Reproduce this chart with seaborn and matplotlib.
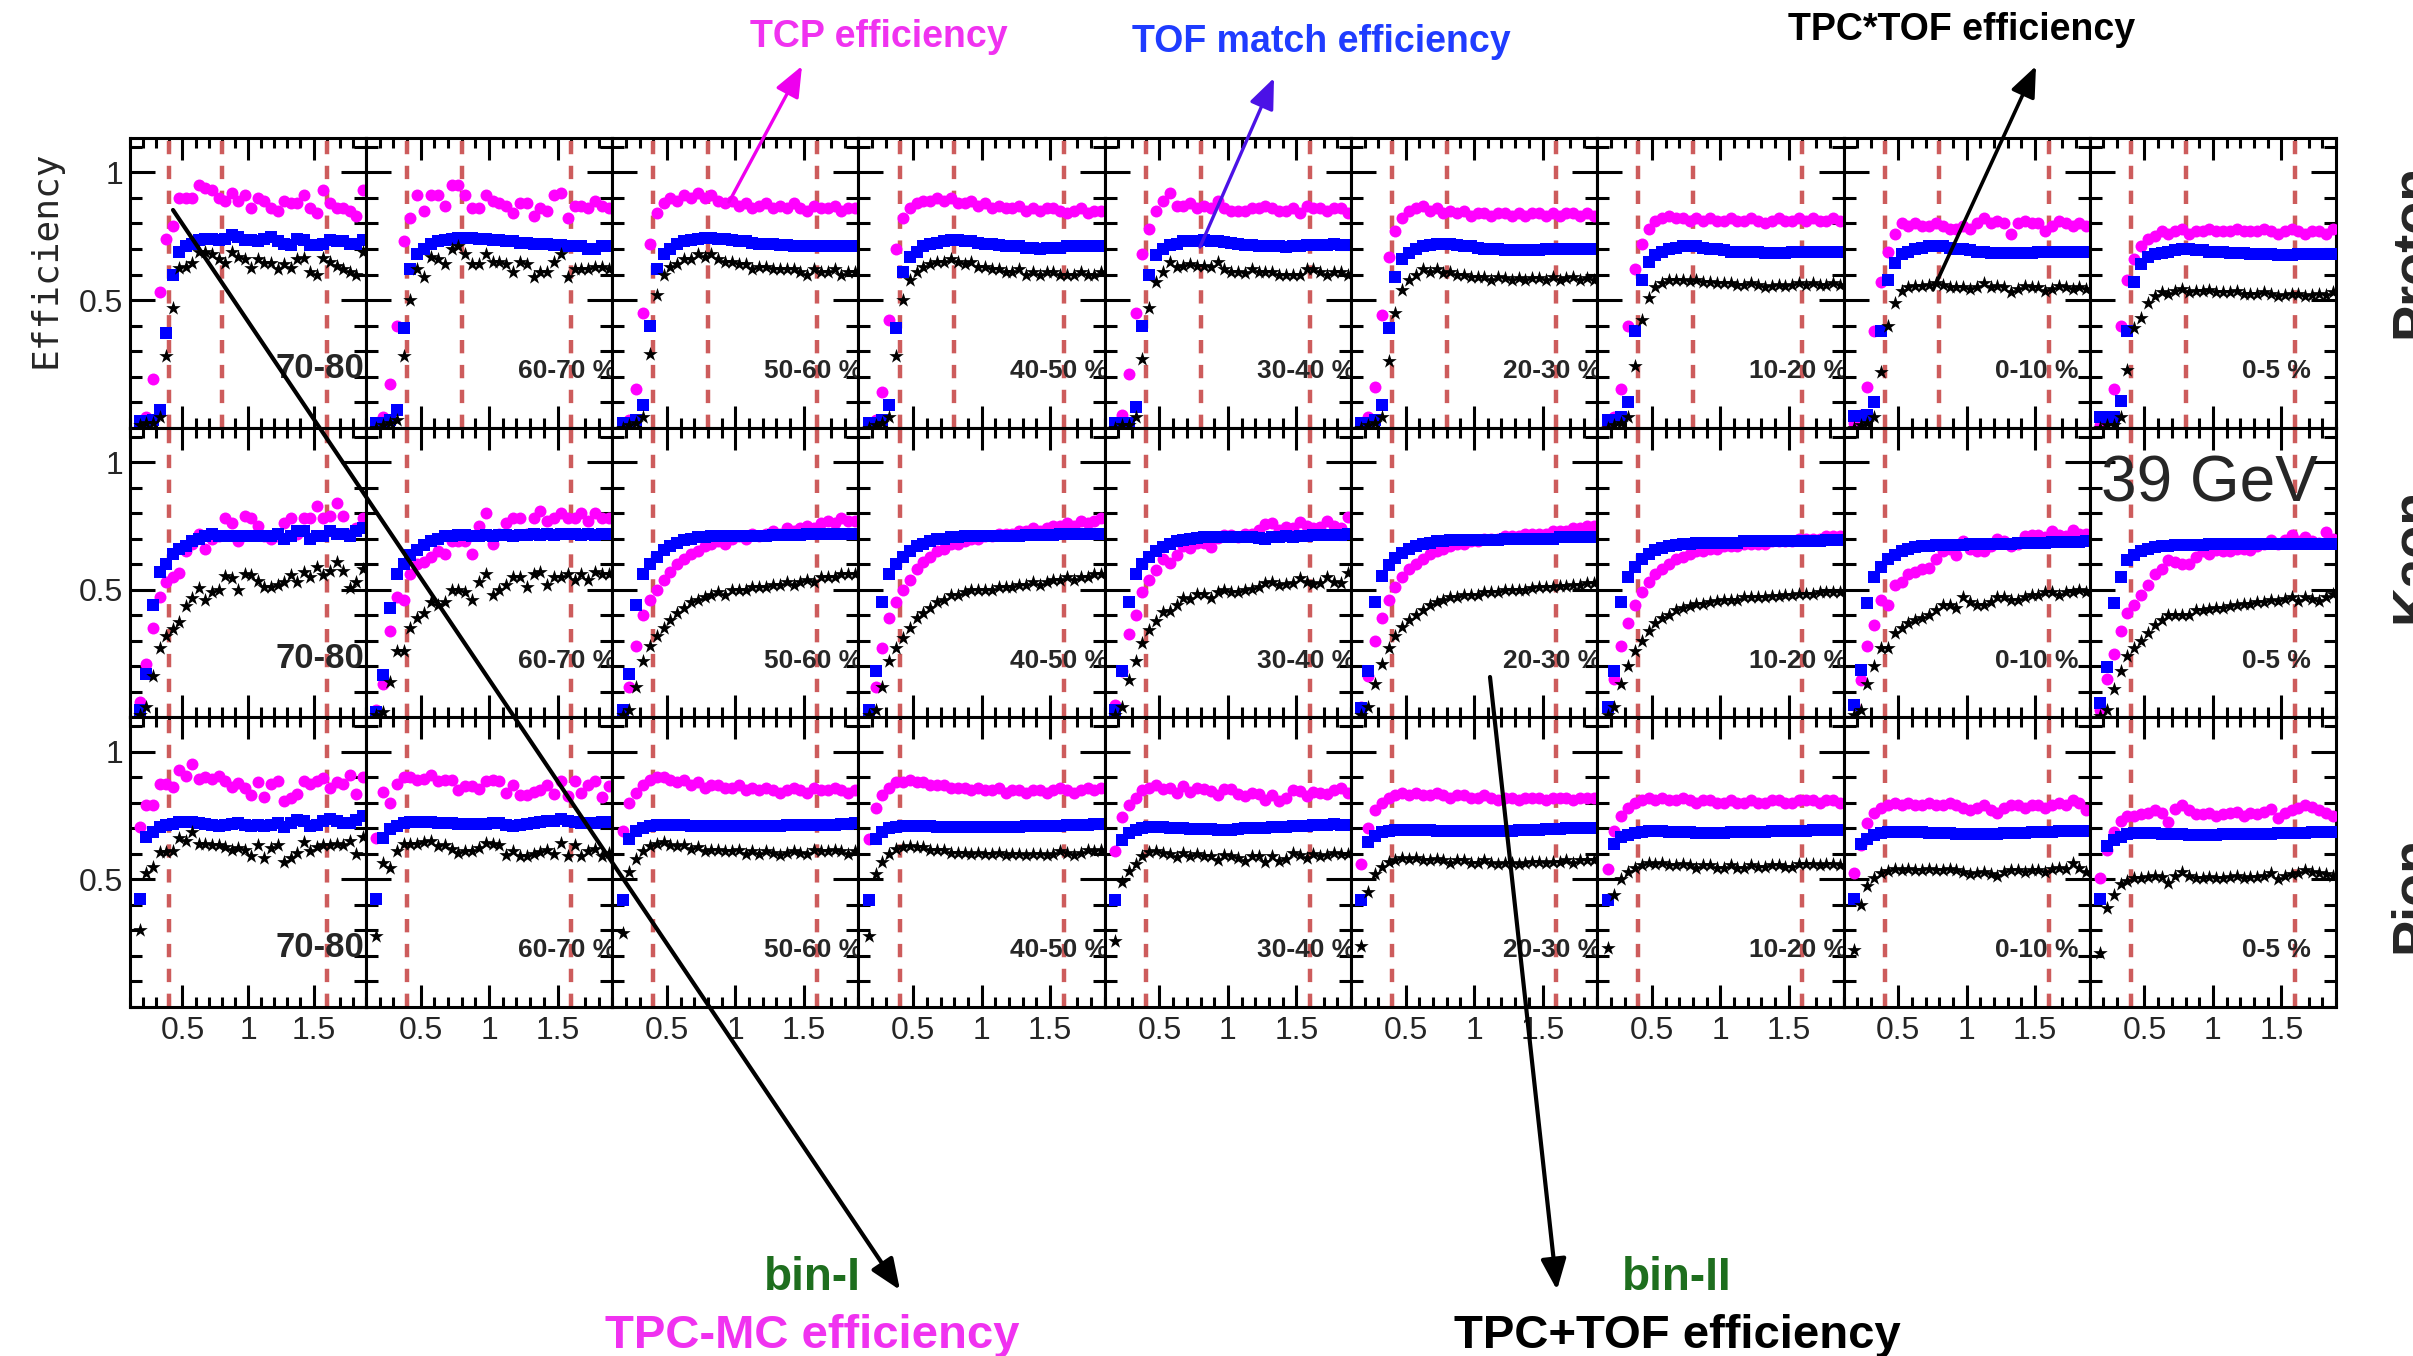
import matplotlib
matplotlib.use("Agg")
import matplotlib.pyplot as plt
from matplotlib.patches import FancyArrowPatch
from matplotlib.ticker import FixedLocator, FixedFormatter, MultipleLocator
import seaborn as sns

# ---------------------------------------------------------------- data
pt_bins = [0.175, 0.225, 0.275, 0.325, 0.375, 0.425, 0.475, 0.525, 0.575,
           0.625, 0.675, 0.725, 0.775, 0.825, 0.875, 0.925, 0.975, 1.025,
           1.075, 1.125, 1.175, 1.225, 1.275, 1.325, 1.375, 1.425, 1.475,
           1.525, 1.575, 1.625, 1.675, 1.725, 1.775, 1.825, 1.875]

centrality_labels = ["70-80", "60-70 %", "50-60 %", "40-50 %", "30-40 %",
                     "20-30 %", "10-20 %", "0-10 %", "0-5 %"]
species_labels = ["Proton", "Kaon", "Pion"]
energy_label = "39 GeV"
cut_lines = [[0.4, 0.8, 1.6], [0.4, 1.6], [0.4, 1.6]]

# TPC (MC) efficiency - magenta circles
proton_tpc = [
    [0.01, 0.04, 0.19, 0.53, 0.74, 0.79, 0.90,  0.90, 0.90, 0.95, 0.94, 0.93, 0.90, 0.89,  0.92, 0.89, 0.91, 0.86, 0.90, 0.89, 0.86,  0.85, 0.89, 0.88, 0.88, 0.91, 0.86, 0.84,  0.93, 0.88, 0.86, 0.86, 0.85, 0.83, 0.93],
    [0.00, 0.04, 0.17, 0.40, 0.73, 0.82, 0.91,  0.85, 0.91, 0.91, 0.87, 0.95, 0.95, 0.91,  0.86, 0.86, 0.91, 0.89, 0.88, 0.87, 0.84,  0.88, 0.88, 0.83, 0.86, 0.85, 0.91, 0.92,  0.82, 0.87, 0.87, 0.86, 0.89, 0.87, 0.86],
    [0.01, 0.03, 0.15, 0.45, 0.72, 0.84, 0.88,  0.90, 0.89, 0.91, 0.90, 0.92, 0.90, 0.91,  0.89, 0.88, 0.89, 0.87, 0.88, 0.86, 0.87,  0.88, 0.86, 0.87, 0.86, 0.88, 0.86, 0.85,  0.87, 0.86, 0.86, 0.87, 0.85, 0.86, 0.86],
    [0.01, 0.03, 0.14, 0.42, 0.70, 0.82, 0.86,  0.88, 0.89, 0.89, 0.90, 0.89, 0.90, 0.88,  0.88, 0.89, 0.87, 0.88, 0.86, 0.87, 0.86,  0.86, 0.87, 0.85, 0.86, 0.85, 0.86, 0.86,  0.85, 0.84, 0.85, 0.86, 0.84, 0.85, 0.85],
    [0.01, 0.05, 0.21, 0.45, 0.68, 0.78, 0.85,  0.89, 0.92, 0.87, 0.87, 0.88, 0.86, 0.87,  0.86, 0.89, 0.86, 0.85, 0.85, 0.85, 0.86,  0.86, 0.87, 0.86, 0.85, 0.85, 0.86, 0.84,  0.87, 0.86, 0.86, 0.85, 0.86, 0.86, 0.84],
    [0.01, 0.04, 0.16, 0.44, 0.67, 0.77, 0.82,  0.85, 0.86, 0.87, 0.85, 0.86, 0.84, 0.85,  0.84, 0.85, 0.83, 0.84, 0.84, 0.83, 0.84,  0.84, 0.83, 0.84, 0.83, 0.84, 0.84, 0.83,  0.84, 0.83, 0.84, 0.84, 0.83, 0.84, 0.83],
    [0.01, 0.04, 0.15, 0.40, 0.62, 0.72, 0.78,  0.81, 0.82, 0.83, 0.82, 0.82, 0.81, 0.82,  0.81, 0.82, 0.81, 0.81, 0.82, 0.81, 0.81,  0.82, 0.81, 0.80, 0.81, 0.82, 0.81, 0.81,  0.82, 0.81, 0.82, 0.81, 0.81, 0.82, 0.81],
    [0.02, 0.05, 0.16, 0.38, 0.57, 0.69, 0.76,  0.80, 0.79, 0.80, 0.79, 0.79, 0.80, 0.79,  0.78, 0.78, 0.79, 0.78, 0.80, 0.82, 0.80,  0.81, 0.80, 0.76, 0.80, 0.81, 0.80, 0.80,  0.77, 0.79, 0.81, 0.80, 0.79, 0.80, 0.79],
    [0.01, 0.04, 0.15, 0.40, 0.58, 0.66, 0.71,  0.74, 0.75, 0.77, 0.76, 0.77, 0.78, 0.76,  0.77, 0.77, 0.78, 0.77, 0.77, 0.77, 0.78,  0.77, 0.77, 0.77, 0.78, 0.77, 0.76, 0.77,  0.78, 0.77, 0.76, 0.77, 0.77, 0.76, 0.78],
]
kaon_tpc = [
    [0.06, 0.21, 0.35, 0.47, 0.53, 0.55, 0.565,  0.65, 0.68, 0.72, 0.66, 0.70, 0.71, 0.78,  0.76, 0.69, 0.79, 0.78, 0.75, 0.71, 0.70,  0.71, 0.76, 0.78, 0.72, 0.78, 0.78, 0.83,  0.78, 0.79, 0.84, 0.79, 0.72, 0.74, 0.78],
    [0.03, 0.13, 0.34, 0.47, 0.46, 0.56, 0.60,  0.61, 0.63, 0.65, 0.64, 0.69, 0.69, 0.69,  0.64, 0.75, 0.80, 0.68, 0.72, 0.76, 0.78,  0.78, 0.72, 0.78, 0.81, 0.77, 0.78, 0.80,  0.78, 0.78, 0.80, 0.77, 0.80, 0.78, 0.78],
    [0.03, 0.12, 0.28, 0.40, 0.46, 0.50, 0.54,  0.57, 0.60, 0.62, 0.64, 0.65, 0.67, 0.68,  0.69, 0.68, 0.70, 0.71, 0.70, 0.72, 0.71,  0.72, 0.73, 0.72, 0.74, 0.73, 0.74, 0.75,  0.74, 0.76, 0.77, 0.76, 0.78, 0.77, 0.77],
    [0.03, 0.12, 0.27, 0.39, 0.45, 0.50, 0.54,  0.58, 0.61, 0.63, 0.65, 0.66, 0.68, 0.68,  0.69, 0.70, 0.70, 0.71, 0.71, 0.72, 0.72,  0.72, 0.73, 0.73, 0.74, 0.73, 0.74, 0.75,  0.75, 0.76, 0.75, 0.77, 0.76, 0.77, 0.78],
    [0.05, 0.18, 0.325, 0.40, 0.49, 0.54, 0.578,  0.62, 0.606, 0.638, 0.67, 0.665, 0.683, 0.683,  0.668, 0.704, 0.713, 0.713, 0.707, 0.72, 0.72,  0.733, 0.756, 0.76, 0.735, 0.745, 0.743, 0.765,  0.748, 0.743, 0.745, 0.769, 0.748, 0.743, 0.784],
    [0.04, 0.16, 0.30, 0.39, 0.46, 0.51, 0.55,  0.58, 0.60, 0.62, 0.64, 0.65, 0.66, 0.67,  0.68, 0.68, 0.69, 0.69, 0.70, 0.70, 0.70,  0.71, 0.71, 0.71, 0.72, 0.72, 0.72, 0.72,  0.73, 0.73, 0.73, 0.74, 0.74, 0.75, 0.75],
    [0.04, 0.15, 0.28, 0.37, 0.44, 0.49, 0.53,  0.56, 0.58, 0.60, 0.62, 0.63, 0.64, 0.65,  0.65, 0.66, 0.66, 0.67, 0.67, 0.67, 0.68,  0.68, 0.68, 0.68, 0.69, 0.69, 0.69, 0.69,  0.70, 0.70, 0.70, 0.70, 0.71, 0.71, 0.71],
    [0.05, 0.145, 0.28, 0.36, 0.46, 0.44, 0.52,  0.53, 0.56, 0.57, 0.58, 0.585, 0.62, 0.65,  0.66, 0.635, 0.69, 0.66, 0.65, 0.65, 0.67,  0.70, 0.69, 0.67, 0.68, 0.71, 0.715, 0.715,  0.705, 0.73, 0.715, 0.71, 0.735, 0.72, 0.72],
    [0.03, 0.15, 0.25, 0.34, 0.41, 0.44, 0.48,  0.52, 0.56, 0.58, 0.615, 0.61, 0.60, 0.60,  0.63, 0.65, 0.64, 0.655, 0.65, 0.65, 0.66,  0.66, 0.655, 0.67, 0.68, 0.695, 0.68, 0.695,  0.715, 0.69, 0.705, 0.69, 0.685, 0.725, 0.70],
]
pion_tpc = [
    [0.707, 0.793, 0.793, 0.873, 0.873, 0.863, 0.93,  0.907, 0.953, 0.893, 0.90, 0.893, 0.907, 0.884,  0.863, 0.876, 0.86, 0.83, 0.88, 0.823, 0.873,  0.884, 0.807, 0.817, 0.833, 0.887, 0.873, 0.884,  0.897, 0.86, 0.88, 0.873, 0.91, 0.836, 0.90],
    [0.664, 0.844, 0.80, 0.873, 0.90, 0.90, 0.89,  0.895, 0.91, 0.884, 0.89, 0.89, 0.85, 0.864,  0.864, 0.855, 0.884, 0.89, 0.886, 0.84, 0.87,  0.83, 0.83, 0.844, 0.85, 0.868, 0.833, 0.887,  0.828, 0.884, 0.84, 0.87, 0.887, 0.824, 0.864],
    [0.69, 0.80, 0.84, 0.87, 0.89, 0.90, 0.90,  0.89, 0.88, 0.89, 0.87, 0.88, 0.86, 0.87,  0.87, 0.86, 0.86, 0.87, 0.85, 0.86, 0.85,  0.86, 0.85, 0.84, 0.85, 0.86, 0.85, 0.84,  0.86, 0.85, 0.85, 0.86, 0.85, 0.84, 0.85],
    [0.66, 0.78, 0.83, 0.86, 0.88, 0.88, 0.89,  0.88, 0.88, 0.87, 0.87, 0.87, 0.86, 0.86,  0.86, 0.85, 0.86, 0.85, 0.85, 0.86, 0.84,  0.85, 0.85, 0.84, 0.85, 0.85, 0.84, 0.85,  0.86, 0.85, 0.84, 0.85, 0.86, 0.85, 0.86],
    [0.613, 0.743, 0.793, 0.817, 0.849, 0.86, 0.87,  0.853, 0.86, 0.84, 0.864, 0.844, 0.857, 0.856,  0.847, 0.83, 0.856, 0.854, 0.836, 0.827, 0.84,  0.833, 0.813, 0.83, 0.807, 0.82, 0.849, 0.847,  0.827, 0.844, 0.84, 0.836, 0.849, 0.86, 0.84],
    [0.56, 0.70, 0.77, 0.80, 0.82, 0.83, 0.84,  0.83, 0.84, 0.83, 0.83, 0.84, 0.83, 0.82,  0.83, 0.83, 0.82, 0.82, 0.83, 0.82, 0.81,  0.82, 0.82, 0.81, 0.82, 0.82, 0.82, 0.81,  0.82, 0.82, 0.82, 0.81, 0.82, 0.82, 0.82],
    [0.54, 0.69, 0.75, 0.78, 0.80, 0.81, 0.82,  0.81, 0.82, 0.81, 0.81, 0.82, 0.81, 0.80,  0.81, 0.81, 0.80, 0.80, 0.81, 0.80, 0.80,  0.81, 0.80, 0.80, 0.81, 0.81, 0.80, 0.80,  0.81, 0.81, 0.81, 0.80, 0.81, 0.81, 0.80],
    [0.524, 0.633, 0.72, 0.76, 0.78, 0.79, 0.80,  0.79, 0.80, 0.79, 0.79, 0.80, 0.79, 0.79,  0.80, 0.79, 0.78, 0.77, 0.78, 0.79, 0.77,  0.76, 0.78, 0.79, 0.79, 0.78, 0.79, 0.79,  0.78, 0.79, 0.80, 0.79, 0.81, 0.80, 0.77],
    [0.504, 0.615, 0.684, 0.727, 0.748, 0.748, 0.757,  0.76, 0.77, 0.76, 0.724, 0.775, 0.79, 0.77,  0.757, 0.755, 0.76, 0.75, 0.755, 0.76, 0.765,  0.75, 0.76, 0.755, 0.765, 0.777, 0.74, 0.76,  0.77, 0.78, 0.793, 0.785, 0.77, 0.76, 0.748],
]

# TOF match efficiency - blue squares
proton_tof = [
    [0.025, 0.025, 0.03, 0.07, 0.37, 0.60, 0.69,  0.71, 0.72, 0.735, 0.74, 0.74, 0.735, 0.74,  0.755, 0.748, 0.735, 0.735, 0.73, 0.74, 0.748,  0.73, 0.72, 0.716, 0.74, 0.735, 0.716, 0.716,  0.72, 0.735, 0.73, 0.73, 0.72, 0.72, 0.735],
    [0.02, 0.02, 0.03, 0.07, 0.39, 0.62, 0.68,  0.70, 0.72, 0.73, 0.735, 0.74, 0.745, 0.745,  0.745, 0.74, 0.74, 0.735, 0.735, 0.73, 0.73,  0.725, 0.725, 0.72, 0.72, 0.72, 0.715, 0.715,  0.71, 0.71, 0.71, 0.70, 0.70, 0.71, 0.71],
    [0.02, 0.02, 0.03, 0.09, 0.40, 0.62, 0.68,  0.70, 0.72, 0.73, 0.735, 0.74, 0.745, 0.745,  0.74, 0.74, 0.735, 0.73, 0.73, 0.725, 0.72,  0.72, 0.72, 0.715, 0.715, 0.71, 0.71, 0.71,  0.71, 0.71, 0.71, 0.71, 0.71, 0.71, 0.71],
    [0.02, 0.02, 0.03, 0.09, 0.39, 0.61, 0.67,  0.69, 0.71, 0.72, 0.725, 0.73, 0.735, 0.735,  0.73, 0.73, 0.725, 0.72, 0.72, 0.715, 0.71,  0.71, 0.71, 0.705, 0.705, 0.70, 0.705, 0.705,  0.705, 0.71, 0.71, 0.71, 0.71, 0.71, 0.71],
    [0.02, 0.02, 0.02, 0.08, 0.40, 0.60, 0.675,  0.70, 0.715, 0.72, 0.73, 0.733, 0.73, 0.735,  0.733, 0.73, 0.726, 0.722, 0.72, 0.716, 0.716,  0.713, 0.713, 0.71, 0.71, 0.707, 0.71, 0.712,  0.716, 0.716, 0.716, 0.716, 0.718, 0.716, 0.716],
    [0.02, 0.02, 0.03, 0.09, 0.39, 0.59, 0.66,  0.685, 0.70, 0.71, 0.715, 0.72, 0.72, 0.72,  0.715, 0.71, 0.71, 0.705, 0.70, 0.70, 0.70,  0.695, 0.695, 0.695, 0.695, 0.695, 0.695, 0.70,  0.70, 0.70, 0.70, 0.70, 0.70, 0.70, 0.70],
    [0.03, 0.03, 0.04, 0.10, 0.38, 0.58, 0.65,  0.675, 0.69, 0.70, 0.705, 0.71, 0.71, 0.71,  0.705, 0.70, 0.70, 0.695, 0.69, 0.69, 0.69,  0.69, 0.69, 0.685, 0.685, 0.685, 0.685, 0.69,  0.69, 0.69, 0.69, 0.69, 0.69, 0.69, 0.69],
    [0.045, 0.045, 0.05, 0.10, 0.38, 0.58, 0.645,  0.68, 0.69, 0.70, 0.705, 0.71, 0.71, 0.71,  0.705, 0.70, 0.70, 0.695, 0.69, 0.69, 0.685,  0.685, 0.685, 0.685, 0.685, 0.685, 0.685, 0.69,  0.69, 0.69, 0.69, 0.69, 0.69, 0.69, 0.69],
    [0.04, 0.04, 0.04, 0.105, 0.38, 0.57, 0.64,  0.67, 0.68, 0.685, 0.69, 0.695, 0.70, 0.70,  0.695, 0.695, 0.69, 0.69, 0.69, 0.685, 0.685,  0.685, 0.68, 0.68, 0.68, 0.68, 0.675, 0.675,  0.675, 0.68, 0.68, 0.68, 0.68, 0.68, 0.68],
]
kaon_tof = [
    [0.03, 0.17, 0.44, 0.57, 0.60, 0.64, 0.66,  0.67, 0.69, 0.70, 0.71, 0.72, 0.71, 0.71,  0.71, 0.71, 0.71, 0.71, 0.71, 0.71, 0.71,  0.72, 0.70, 0.71, 0.73, 0.73, 0.70, 0.71,  0.71, 0.73, 0.72, 0.72, 0.71, 0.73, 0.74],
    [0.02, 0.165, 0.43, 0.56, 0.60, 0.635, 0.655,  0.675, 0.69, 0.70, 0.71, 0.71, 0.715, 0.715,  0.71, 0.71, 0.715, 0.71, 0.715, 0.715, 0.71,  0.715, 0.715, 0.72, 0.715, 0.72, 0.715, 0.72,  0.72, 0.72, 0.715, 0.72, 0.715, 0.72, 0.72],
    [0.03, 0.17, 0.44, 0.56, 0.60, 0.63, 0.655,  0.67, 0.685, 0.695, 0.70, 0.705, 0.705, 0.71,  0.71, 0.71, 0.71, 0.71, 0.71, 0.71, 0.71,  0.71, 0.715, 0.715, 0.715, 0.715, 0.715, 0.72,  0.72, 0.72, 0.72, 0.72, 0.72, 0.72, 0.72],
    [0.03, 0.18, 0.45, 0.56, 0.60, 0.63, 0.65,  0.67, 0.68, 0.69, 0.70, 0.70, 0.705, 0.705,  0.71, 0.71, 0.71, 0.71, 0.71, 0.71, 0.71,  0.71, 0.71, 0.715, 0.715, 0.715, 0.715, 0.715,  0.72, 0.72, 0.72, 0.72, 0.72, 0.72, 0.72],
    [0.03, 0.18, 0.45, 0.56, 0.60, 0.63, 0.65,  0.668, 0.68, 0.69, 0.696, 0.70, 0.704, 0.707,  0.707, 0.707, 0.706, 0.706, 0.705, 0.706, 0.705,  0.703, 0.70, 0.708, 0.708, 0.71, 0.708, 0.712,  0.712, 0.715, 0.715, 0.714, 0.716, 0.713, 0.72],
    [0.035, 0.18, 0.45, 0.555, 0.595, 0.625, 0.645,  0.66, 0.67, 0.68, 0.685, 0.69, 0.69, 0.695,  0.695, 0.695, 0.695, 0.695, 0.695, 0.695, 0.695,  0.70, 0.70, 0.70, 0.70, 0.70, 0.70, 0.70,  0.70, 0.705, 0.705, 0.705, 0.705, 0.705, 0.705],
    [0.04, 0.18, 0.45, 0.55, 0.59, 0.62, 0.64,  0.655, 0.665, 0.67, 0.675, 0.68, 0.68, 0.685,  0.685, 0.685, 0.685, 0.685, 0.685, 0.685, 0.69,  0.69, 0.69, 0.69, 0.69, 0.69, 0.69, 0.69,  0.69, 0.69, 0.69, 0.69, 0.695, 0.695, 0.695],
    [0.047, 0.184, 0.448, 0.55, 0.59, 0.62, 0.637,  0.65, 0.66, 0.667, 0.67, 0.672, 0.674, 0.675,  0.676, 0.676, 0.677, 0.678, 0.678, 0.679, 0.68,  0.68, 0.68, 0.681, 0.682, 0.683, 0.684, 0.684,  0.685, 0.686, 0.686, 0.687, 0.687, 0.688, 0.69],
    [0.057, 0.197, 0.448, 0.55, 0.615, 0.637, 0.65,  0.66, 0.667, 0.67, 0.672, 0.674, 0.675, 0.676,  0.677, 0.677, 0.678, 0.678, 0.679, 0.679, 0.68,  0.68, 0.68, 0.68, 0.68, 0.68, 0.68, 0.68,  0.68, 0.68, 0.68, 0.68, 0.68, 0.68, 0.68],
]
pion_tof = [
    [0.423, 0.667, 0.687, 0.707, 0.713, 0.717, 0.723,  0.724, 0.724, 0.72, 0.717, 0.713, 0.71, 0.713,  0.717, 0.72, 0.713, 0.71, 0.713, 0.71, 0.713,  0.72, 0.707, 0.72, 0.733, 0.727, 0.71, 0.713,  0.727, 0.737, 0.729, 0.72, 0.72, 0.733, 0.747],
    [0.424, 0.664, 0.697, 0.71, 0.72, 0.724, 0.724,  0.725, 0.724, 0.722, 0.72, 0.72, 0.718, 0.716,  0.716, 0.716, 0.718, 0.72, 0.72, 0.715, 0.71,  0.713, 0.716, 0.72, 0.724, 0.727, 0.73, 0.735,  0.73, 0.726, 0.722, 0.72, 0.722, 0.725, 0.725],
    [0.42, 0.66, 0.69, 0.70, 0.71, 0.715, 0.715,  0.715, 0.715, 0.712, 0.71, 0.71, 0.708, 0.708,  0.708, 0.708, 0.708, 0.708, 0.708, 0.708, 0.71,  0.71, 0.71, 0.71, 0.712, 0.712, 0.712, 0.715,  0.715, 0.715, 0.715, 0.715, 0.718, 0.718, 0.72],
    [0.42, 0.66, 0.685, 0.70, 0.705, 0.71, 0.71,  0.71, 0.71, 0.708, 0.706, 0.705, 0.705, 0.705,  0.705, 0.705, 0.705, 0.705, 0.705, 0.705, 0.707,  0.707, 0.707, 0.708, 0.708, 0.708, 0.71, 0.71,  0.71, 0.712, 0.712, 0.714, 0.714, 0.716, 0.716],
    [0.42, 0.653, 0.68, 0.693, 0.70, 0.704, 0.704,  0.704, 0.703, 0.70, 0.70, 0.697, 0.697, 0.697,  0.696, 0.693, 0.693, 0.693, 0.696, 0.70, 0.703,  0.70, 0.70, 0.707, 0.707, 0.707, 0.709, 0.709,  0.71, 0.713, 0.713, 0.713, 0.716, 0.713, 0.713],
    [0.42, 0.645, 0.67, 0.685, 0.69, 0.695, 0.695,  0.695, 0.695, 0.693, 0.692, 0.69, 0.69, 0.69,  0.69, 0.69, 0.69, 0.69, 0.69, 0.69, 0.69,  0.69, 0.69, 0.692, 0.692, 0.694, 0.695, 0.696,  0.697, 0.698, 0.70, 0.70, 0.70, 0.70, 0.70],
    [0.42, 0.64, 0.665, 0.675, 0.68, 0.685, 0.688,  0.688, 0.688, 0.686, 0.685, 0.684, 0.684, 0.683,  0.683, 0.683, 0.683, 0.683, 0.684, 0.685, 0.685,  0.686, 0.686, 0.687, 0.688, 0.688, 0.689, 0.69,  0.69, 0.69, 0.692, 0.692, 0.693, 0.694, 0.695],
    [0.424, 0.637, 0.657, 0.673, 0.68, 0.687, 0.687,  0.687, 0.686, 0.685, 0.684, 0.683, 0.682, 0.681,  0.68, 0.679, 0.678, 0.677, 0.677, 0.677, 0.678,  0.679, 0.68, 0.681, 0.682, 0.683, 0.684, 0.685,  0.686, 0.687, 0.688, 0.689, 0.69, 0.69, 0.69],
    [0.424, 0.63, 0.655, 0.668, 0.677, 0.68, 0.68,  0.68, 0.68, 0.679, 0.678, 0.677, 0.676, 0.675,  0.675, 0.675, 0.675, 0.675, 0.676, 0.676, 0.677,  0.677, 0.678, 0.678, 0.679, 0.679, 0.68, 0.68,  0.681, 0.682, 0.683, 0.684, 0.685, 0.685, 0.686],
]

# combined TPC*TOF efficiency - black stars
proton_comb = [
    [0.01, 0.02, 0.02, 0.04, 0.28, 0.47, 0.625,  0.63, 0.645, 0.69, 0.69, 0.68, 0.66, 0.645,  0.69, 0.67, 0.66, 0.625, 0.66, 0.645, 0.645,  0.62, 0.64, 0.625, 0.66, 0.665, 0.61, 0.60,  0.665, 0.65, 0.635, 0.62, 0.61, 0.60, 0.69],
    [0.00, 0.01, 0.02, 0.03, 0.28, 0.50, 0.62,  0.59, 0.67, 0.66, 0.64, 0.70, 0.71, 0.68,  0.64, 0.64, 0.68, 0.65, 0.65, 0.64, 0.61,  0.65, 0.64, 0.59, 0.61, 0.61, 0.65, 0.68,  0.59, 0.62, 0.62, 0.62, 0.63, 0.63, 0.62],
    [0.00, 0.01, 0.02, 0.04, 0.29, 0.52, 0.60,  0.63, 0.64, 0.66, 0.66, 0.68, 0.67, 0.68,  0.66, 0.65, 0.65, 0.64, 0.64, 0.62, 0.63,  0.63, 0.62, 0.62, 0.62, 0.62, 0.61, 0.60,  0.62, 0.61, 0.61, 0.62, 0.60, 0.61, 0.61],
    [0.00, 0.01, 0.02, 0.04, 0.28, 0.50, 0.58,  0.61, 0.63, 0.64, 0.65, 0.65, 0.66, 0.65,  0.64, 0.65, 0.63, 0.63, 0.62, 0.62, 0.61,  0.61, 0.62, 0.60, 0.61, 0.60, 0.61, 0.61,  0.60, 0.60, 0.60, 0.61, 0.60, 0.60, 0.61],
    [0.00, 0.01, 0.01, 0.04, 0.27, 0.47, 0.57,  0.61, 0.65, 0.63, 0.635, 0.64, 0.635, 0.635,  0.63, 0.65, 0.62, 0.61, 0.61, 0.605, 0.62,  0.61, 0.61, 0.61, 0.60, 0.60, 0.60, 0.60,  0.62, 0.62, 0.61, 0.60, 0.61, 0.61, 0.60],
    [0.00, 0.01, 0.02, 0.04, 0.26, 0.45, 0.54,  0.58, 0.60, 0.62, 0.61, 0.62, 0.605, 0.61,  0.60, 0.60, 0.59, 0.59, 0.59, 0.58, 0.59,  0.585, 0.58, 0.585, 0.58, 0.585, 0.585, 0.58,  0.59, 0.58, 0.585, 0.59, 0.58, 0.585, 0.58],
    [0.00, 0.01, 0.02, 0.04, 0.24, 0.42, 0.51,  0.55, 0.565, 0.58, 0.58, 0.58, 0.575, 0.58,  0.57, 0.57, 0.565, 0.565, 0.565, 0.56, 0.56,  0.565, 0.56, 0.55, 0.555, 0.56, 0.555, 0.56,  0.565, 0.56, 0.565, 0.56, 0.56, 0.565, 0.56],
    [0.00, 0.01, 0.02, 0.04, 0.22, 0.40, 0.49,  0.535, 0.55, 0.555, 0.555, 0.56, 0.565, 0.56,  0.55, 0.55, 0.55, 0.545, 0.55, 0.565, 0.55,  0.555, 0.55, 0.53, 0.545, 0.555, 0.55, 0.55,  0.535, 0.545, 0.555, 0.55, 0.545, 0.55, 0.545],
    [0.00, 0.01, 0.01, 0.04, 0.225, 0.39, 0.43,  0.49, 0.515, 0.53, 0.525, 0.535, 0.545, 0.53,  0.535, 0.535, 0.54, 0.53, 0.53, 0.53, 0.535,  0.525, 0.525, 0.525, 0.53, 0.525, 0.515, 0.52,  0.525, 0.525, 0.515, 0.52, 0.525, 0.52, 0.53],
]
kaon_comb = [
    [0.01, 0.04, 0.16, 0.27, 0.32, 0.345, 0.375,  0.435, 0.468, 0.506, 0.46, 0.49, 0.497, 0.554,  0.545, 0.497, 0.562, 0.558, 0.536, 0.51, 0.51,  0.52, 0.532, 0.558, 0.532, 0.57, 0.55, 0.59,  0.558, 0.575, 0.61, 0.575, 0.506, 0.532, 0.58],
    [0.01, 0.02, 0.14, 0.26, 0.26, 0.35, 0.39,  0.41, 0.45, 0.44, 0.45, 0.50, 0.50, 0.49,  0.46, 0.53, 0.56, 0.48, 0.50, 0.52, 0.55,  0.55, 0.51, 0.56, 0.57, 0.52, 0.55, 0.55,  0.56, 0.54, 0.56, 0.54, 0.57, 0.56, 0.56],
    [0.01, 0.03, 0.12, 0.22, 0.28, 0.32, 0.35,  0.38, 0.41, 0.43, 0.45, 0.46, 0.47, 0.48,  0.49, 0.48, 0.50, 0.50, 0.50, 0.51, 0.51,  0.51, 0.52, 0.52, 0.53, 0.52, 0.53, 0.54,  0.53, 0.55, 0.55, 0.55, 0.56, 0.56, 0.56],
    [0.01, 0.03, 0.12, 0.22, 0.27, 0.31, 0.35,  0.39, 0.41, 0.43, 0.45, 0.46, 0.48, 0.48,  0.49, 0.50, 0.50, 0.50, 0.50, 0.51, 0.51,  0.51, 0.52, 0.52, 0.53, 0.52, 0.53, 0.54,  0.54, 0.55, 0.54, 0.55, 0.55, 0.56, 0.56],
    [0.01, 0.04, 0.145, 0.222, 0.29, 0.342, 0.377,  0.412, 0.416, 0.44, 0.468, 0.465, 0.484, 0.484,  0.468, 0.49, 0.497, 0.493, 0.493, 0.497, 0.503,  0.51, 0.528, 0.532, 0.517, 0.523, 0.526, 0.545,  0.532, 0.523, 0.526, 0.55, 0.532, 0.528, 0.565],
    [0.01, 0.04, 0.13, 0.21, 0.27, 0.32, 0.355,  0.38, 0.40, 0.42, 0.44, 0.45, 0.46, 0.47,  0.47, 0.48, 0.48, 0.48, 0.49, 0.49, 0.49,  0.50, 0.50, 0.50, 0.50, 0.505, 0.51, 0.51,  0.51, 0.515, 0.515, 0.52, 0.52, 0.525, 0.525],
    [0.01, 0.04, 0.13, 0.20, 0.26, 0.30, 0.34,  0.37, 0.39, 0.40, 0.42, 0.43, 0.435, 0.445,  0.445, 0.45, 0.455, 0.46, 0.46, 0.46, 0.47,  0.47, 0.47, 0.47, 0.475, 0.475, 0.48, 0.48,  0.485, 0.485, 0.485, 0.49, 0.49, 0.49, 0.49],
    [0.01, 0.03, 0.13, 0.20, 0.27, 0.27, 0.33,  0.35, 0.37, 0.38, 0.39, 0.40, 0.42, 0.44,  0.44, 0.43, 0.47, 0.45, 0.44, 0.44, 0.45,  0.47, 0.47, 0.46, 0.46, 0.47, 0.48, 0.48,  0.49, 0.49, 0.48, 0.49, 0.49, 0.50, 0.49],
    [0.005, 0.03, 0.11, 0.18, 0.24, 0.27, 0.30,  0.33, 0.36, 0.38, 0.40, 0.40, 0.40, 0.40,  0.42, 0.42, 0.425, 0.43, 0.43, 0.435, 0.44,  0.445, 0.445, 0.45, 0.45, 0.46, 0.455, 0.465,  0.47, 0.455, 0.47, 0.465, 0.455, 0.47, 0.485],
]
pion_comb = [
    [0.30, 0.527, 0.547, 0.607, 0.607, 0.61, 0.663,  0.65, 0.687, 0.64, 0.64, 0.636, 0.636, 0.627,  0.617, 0.623, 0.617, 0.59, 0.633, 0.583, 0.623,  0.636, 0.567, 0.583, 0.604, 0.647, 0.613, 0.627,  0.636, 0.633, 0.64, 0.633, 0.65, 0.60, 0.667],
    [0.28, 0.564, 0.544, 0.61, 0.637, 0.637, 0.64,  0.647, 0.65, 0.63, 0.633, 0.62, 0.604, 0.61,  0.61, 0.624, 0.644, 0.64, 0.635, 0.597, 0.61,  0.59, 0.593, 0.60, 0.607, 0.617, 0.60, 0.644,  0.593, 0.633, 0.59, 0.61, 0.62, 0.59, 0.604],
    [0.29, 0.53, 0.58, 0.61, 0.63, 0.64, 0.645,  0.635, 0.63, 0.635, 0.62, 0.625, 0.61, 0.615,  0.615, 0.61, 0.61, 0.615, 0.60, 0.61, 0.60,  0.61, 0.605, 0.595, 0.605, 0.61, 0.605, 0.60,  0.615, 0.61, 0.61, 0.615, 0.61, 0.60, 0.61],
    [0.28, 0.52, 0.57, 0.60, 0.62, 0.625, 0.63,  0.625, 0.625, 0.615, 0.615, 0.615, 0.605, 0.605,  0.605, 0.60, 0.605, 0.60, 0.60, 0.605, 0.595,  0.60, 0.60, 0.595, 0.60, 0.60, 0.595, 0.60,  0.61, 0.605, 0.595, 0.605, 0.615, 0.61, 0.615],
    [0.26, 0.49, 0.533, 0.56, 0.593, 0.607, 0.613,  0.604, 0.60, 0.587, 0.604, 0.593, 0.60, 0.593,  0.593, 0.576, 0.597, 0.593, 0.584, 0.573, 0.593,  0.59, 0.57, 0.593, 0.573, 0.58, 0.604, 0.597,  0.583, 0.60, 0.593, 0.596, 0.604, 0.60, 0.60],
    [0.24, 0.45, 0.52, 0.55, 0.57, 0.575, 0.585,  0.58, 0.585, 0.575, 0.575, 0.58, 0.575, 0.565,  0.575, 0.575, 0.565, 0.565, 0.575, 0.565, 0.56,  0.565, 0.565, 0.56, 0.565, 0.57, 0.57, 0.565,  0.57, 0.57, 0.575, 0.565, 0.575, 0.575, 0.575],
    [0.23, 0.44, 0.50, 0.53, 0.545, 0.555, 0.565,  0.56, 0.565, 0.555, 0.555, 0.56, 0.555, 0.545,  0.555, 0.555, 0.545, 0.545, 0.555, 0.545, 0.545,  0.555, 0.55, 0.55, 0.555, 0.555, 0.55, 0.55,  0.56, 0.56, 0.56, 0.555, 0.56, 0.56, 0.555],
    [0.224, 0.40, 0.473, 0.504, 0.524, 0.533, 0.54,  0.535, 0.54, 0.535, 0.535, 0.54, 0.535, 0.535,  0.54, 0.535, 0.53, 0.52, 0.525, 0.53, 0.52,  0.515, 0.53, 0.535, 0.535, 0.53, 0.535, 0.535,  0.53, 0.54, 0.545, 0.54, 0.565, 0.545, 0.53],
    [0.21, 0.388, 0.44, 0.48, 0.495, 0.504, 0.505,  0.51, 0.515, 0.51, 0.484, 0.515, 0.53, 0.515,  0.505, 0.505, 0.51, 0.505, 0.505, 0.51, 0.515,  0.505, 0.51, 0.51, 0.515, 0.525, 0.50, 0.515,  0.52, 0.525, 0.535, 0.53, 0.525, 0.52, 0.515],
]

tpc_rows = [proton_tpc, kaon_tpc, pion_tpc]
tof_rows = [proton_tof, kaon_tof, pion_tof]
comb_rows = [proton_comb, kaon_comb, pion_comb]

# ---------------------------------------------------------------- style
sns.set_style("ticks")
plt.rcParams["font.family"] = ["Liberation Sans", "DejaVu Sans"]
plt.rcParams["axes.linewidth"] = 2.2

W, H, DPI = 2413, 1356, 100
fig = plt.figure(figsize=(W / DPI, H / DPI), dpi=DPI)
fig.patch.set_facecolor("white")


def fx(px):
    return px / W


def fy(py):
    return 1.0 - py / H


gs = fig.add_gridspec(
    3, 9, left=fx(130), right=fx(2336), top=fy(138), bottom=fy(1007),
    wspace=0.0, hspace=0.0, width_ratios=[236] + [246.25] * 8)

MAGENTA = "#ff00ff"
BLUE = "#0000ff"
CUT_RED = "#cd5c5c"

for r in range(3):
    for c in range(9):
        ax = fig.add_subplot(gs[r, c])
        ax.set_facecolor("white")
        ax.set_xlim(0.1, 1.9)
        ax.set_ylim(0.0, 1.135)

        for v in cut_lines[r]:
            ax.axvline(v, color=CUT_RED, lw=3.2, ls=(0, (3.0, 2.6)), zorder=1)

        sns.scatterplot(x=pt_bins, y=tpc_rows[r][c], ax=ax, marker="o", s=74,
                        color=MAGENTA, linewidth=0, legend=False, zorder=3)
        sns.scatterplot(x=pt_bins, y=tof_rows[r][c], ax=ax, marker="s", s=66,
                        color=BLUE, linewidth=0, legend=False, zorder=4)
        sns.scatterplot(x=pt_bins, y=comb_rows[r][c], ax=ax, marker="*", s=120,
                        color="black", linewidth=0, legend=False, zorder=5)

        ax.set_xlabel("")
        ax.set_ylabel("")

        ax.xaxis.set_major_locator(FixedLocator([0.5, 1.0, 1.5]))
        ax.xaxis.set_major_formatter(FixedFormatter(["0.5", "1", "1.5"]))
        ax.xaxis.set_minor_locator(MultipleLocator(0.1))
        ax.yaxis.set_major_locator(FixedLocator([0.5, 1.0]))
        ax.yaxis.set_major_formatter(FixedFormatter(["0.5", "1"]))
        ax.yaxis.set_minor_locator(MultipleLocator(0.1))

        ax.tick_params(which="both", direction="in", top=True, right=True,
                       width=2.2, color="black", labelsize=23)
        ax.tick_params(axis="x", which="major", length=16, pad=6.5)
        ax.tick_params(axis="x", which="minor", length=7.5)
        ax.tick_params(axis="y", which="major", length=18, pad=5)
        ax.tick_params(axis="y", which="minor", length=8.5)
        ax.tick_params(labelbottom=(r == 2), labelleft=(c == 0))

        for sp in ax.spines.values():
            sp.set_linewidth(2.2)
            sp.set_color("black")

        size = 25 if c == 0 else 19
        ax.text(1.21, 0.195, centrality_labels[c], fontsize=size,
                fontweight="bold", ha="left", va="baseline", zorder=6)

        if r == 1 and c == 8:
            ax.text(0.18, 0.845, energy_label, fontsize=46,
                    ha="left", va="baseline", zorder=6)

# ---------------------------------------------------------------- labels
fig.text(fx(46), fy(259), "Efficiency", rotation=90, ha="center",
         va="center", fontsize=26, family=["DejaVu Sans Mono"])

# species names sit at the right edge of the canvas, partly beyond it
for name, y_start in zip(species_labels, [338, 623, 953]):
    fig.text(fx(2427), fy(y_start), name, rotation=90, rotation_mode="anchor",
             ha="left", va="baseline", fontsize=39, fontweight="bold")

fig.text(fx(879), fy(47), "TCP efficiency", color="#f032f0", fontsize=27,
         fontweight="bold", ha="center", va="baseline")
fig.text(fx(1321), fy(52), "TOF match efficiency", color="#1f3cff",
         fontsize=27, fontweight="bold", ha="center", va="baseline")
fig.text(fx(1962), fy(40), "TPC*TOF efficiency", color="black", fontsize=27,
         fontweight="bold", ha="center", va="baseline")

fig.text(fx(812), fy(1290), "bin-I", color="#1e6e1e", fontsize=33,
         fontweight="bold", ha="center", va="baseline")
fig.text(fx(812), fy(1348), "TPC-MC efficiency", color="#f032f0",
         fontsize=34, fontweight="bold", ha="center", va="baseline")
fig.text(fx(1677), fy(1290), "bin-II", color="#1e6e1e", fontsize=33,
         fontweight="bold", ha="center", va="baseline")
fig.text(fx(1677), fy(1348), "TPC+TOF efficiency", color="black",
         fontsize=34, fontweight="bold", ha="center", va="baseline")


def arrow(p0, p1, color, lw):
    a = FancyArrowPatch((fx(p0[0]), fy(p0[1])), (fx(p1[0]), fy(p1[1])),
                        transform=fig.transFigure,
                        arrowstyle="-|>,head_length=0.85,head_width=0.35",
                        mutation_scale=22, lw=lw, color=color,
                        shrinkA=0, shrinkB=0, zorder=10)
    fig.add_artist(a)


arrow((729, 202), (802, 66), "#ee00ee", 2.4)
arrow((1200, 247), (1274, 78), "#4b12e6", 2.4)
arrow((1933, 290), (2036, 66), "black", 2.6)
arrow((173, 210), (900, 1290), "black", 3.0)
arrow((1490, 677), (1557, 1290), "black", 3.0)

fig.savefig("out.png", dpi=DPI, facecolor="white")
